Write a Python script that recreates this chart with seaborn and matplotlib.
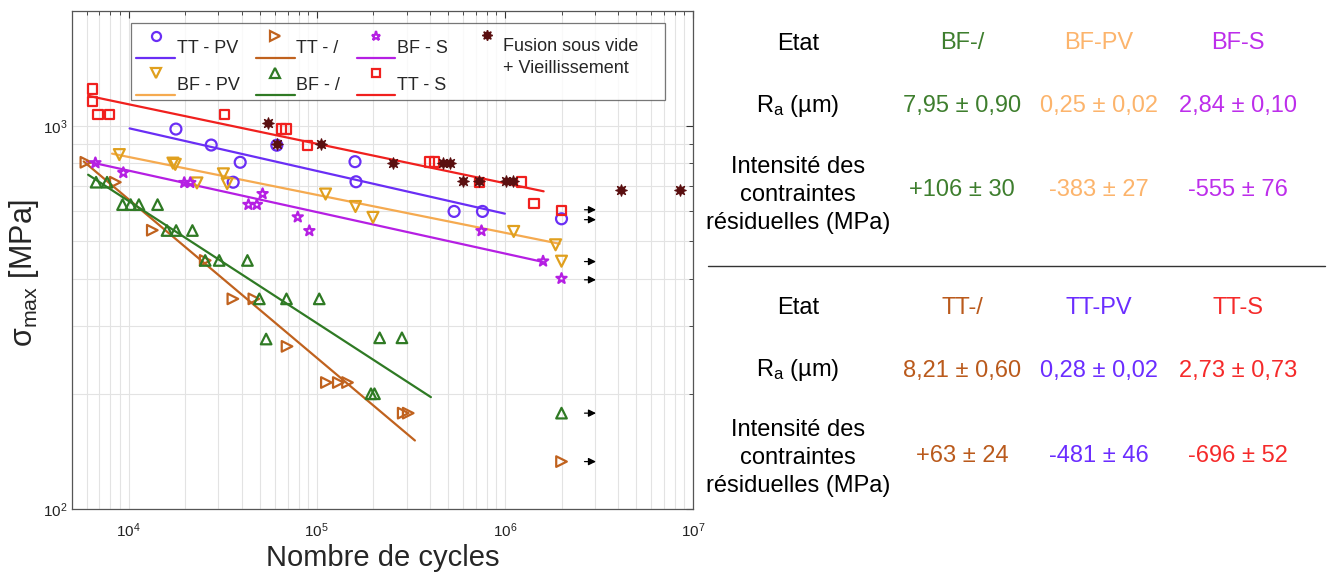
import numpy as np
import pandas as pd
import matplotlib
matplotlib.use("Agg")
import matplotlib.pyplot as plt
import seaborn as sns
from matplotlib.lines import Line2D
from matplotlib.legend_handler import HandlerLine2DCompound
from matplotlib.ticker import NullFormatter

# ---------------- data ----------------
ttpv_n = [17840, 27480, 39180, 35950, 61330, 159700, 161700, 537000, 760000, 2.0e6]
ttpv_s = [983, 893, 805, 714, 892, 808, 716, 599, 599, 573]

bfpv_n = [8925, 17200, 17700, 23070, 31900, 33400, 111400, 160600, 199000, 1.114e6, 1.86e6, 2.0e6]
bfpv_s = [843, 801, 795, 711, 751, 708, 665, 617, 578, 531, 490, 444]

ttx_n = [5926, 8500, 13360, 25530, 35810, 46300, 69500, 112500, 130200, 145700, 288100, 306300, 2.0e6]
ttx_s = [805, 714, 535, 446, 354, 354, 266, 214, 214, 214, 178, 178, 133]

bfx_n = [6714, 7680, 9282, 10250, 11340, 14250, 15990, 17890, 21830, 25530, 30290, 42810,
         49530, 69040, 103100, 53810, 216000, 283600, 194200, 202700, 2.0e6]
bfx_s = [714, 714, 624, 624, 624, 624, 534, 534, 534, 446, 446, 446,
         354, 354, 354, 278, 280, 280, 200, 200, 178]

bfs_n = [6657, 9374, 19760, 21260, 43350, 48040, 51540, 79250, 91330, 751000, 1.596e6, 2.0e6]
bfs_s = [802, 756, 712, 712, 624, 624, 666, 579, 533, 533, 444, 400]

tts_n = [6457, 6457, 6880, 7930, 32200, 65000, 68700, 89100, 399000, 424000, 736000, 1.225e6, 1.43e6, 2.0e6]
tts_s = [1251, 1158, 1073, 1073, 1073, 983, 983, 891, 806, 806, 713, 715, 627, 602]

fus_n = [55350, 61330, 105000, 253200, 468000, 512900, 602600, 724400, 1.02e6, 1.11e6, 4.12e6, 8.51e6]
fus_s = [1019, 900, 900, 802, 802, 802, 721, 721, 721, 721, 681, 681]

# Basquin fit lines (end points)
tts_fit_n = [6090, 1.607e6];  tts_fit_s = [1201, 676]
ttpv_fit_n = [10120, 1.0e6];  ttpv_fit_s = [987, 591]
bfpv_fit_n = [8165, 1.955e6]; bfpv_fit_s = [848, 493]
bfs_fit_n = [6016, 1.596e6];  bfs_fit_s = [809, 442]
ttx_fit_n = [5770, 332500];   ttx_fit_s = [809, 151]
bfx_fit_n = [6090, 404300];   bfx_fit_s = [747, 196]

# run-out arrows
runout_start = 2.65e6
runout_end = 3.05e6
runout_s = [605, 570, 443, 397, 178, 133]

# table
etat_top = ["BF-/", "BF-PV", "BF-S"]
ra_top = ["7,95 ± 0,90", "0,25 ± 0,02", "2,84 ± 0,10"]
rs_top = ["+106 ± 30", "-383 ± 27", "-555 ± 76"]
etat_bot = ["TT-/", "TT-PV", "TT-S"]
ra_bot = ["8,21 ± 0,60", "0,28 ± 0,02", "2,73 ± 0,73"]
rs_bot = ["+63 ± 24", "-481 ± 46", "-696 ± 52"]

# ---------------- style ----------------
sns.set_theme(style="white")
plt.rcParams["font.family"] = ["Liberation Sans", "DejaVu Sans"]
plt.rcParams["mathtext.fontset"] = "custom"
plt.rcParams["mathtext.rm"] = "Liberation Sans"
plt.rcParams["mathtext.it"] = "Liberation Sans:italic"

c_ttpv = "#6A2EF5"
c_bfpv_line = "#F5AA50"
c_bfpv_mark = "#E0A01E"
c_ttx = "#C0621E"
c_bfx = "#2F7A24"
c_bfs = "#B51FE3"
c_tts = "#F0201E"
c_fus = "#5A0F10"

tab_top_cols = ["#3E7E2E", "#FCB46C", "#BD2EEB"]
tab_bot_cols = ["#BA5A1C", "#6B2DFF", "#F52A2A"]

W, H = 1327, 572
fig = plt.figure(figsize=(W / 100, H / 100), dpi=100)
ax = fig.add_axes([72 / W, 1 - 509 / H, (693 - 72) / W, (509 - 11) / H])
ax.set_xscale("log")
ax.set_yscale("log")

lw_fit = 1.6
fits = [
    (tts_fit_n, tts_fit_s, c_tts),
    (ttpv_fit_n, ttpv_fit_s, c_ttpv),
    (bfpv_fit_n, bfpv_fit_s, c_bfpv_line),
    (bfs_fit_n, bfs_fit_s, c_bfs),
    (ttx_fit_n, ttx_fit_s, c_ttx),
    (bfx_fit_n, bfx_fit_s, c_bfx),
]
for fn, fs_, col in fits:
    sns.lineplot(x=fn, y=fs_, color=col, lw=lw_fit, ax=ax, legend=False, zorder=2)

series = [
    (ttpv_n, ttpv_s, c_ttpv, "o", 62),
    (bfpv_n, bfpv_s, c_bfpv_mark, "v", 62),
    (ttx_n, ttx_s, c_ttx, ">", 58),
    (bfx_n, bfx_s, c_bfx, "^", 58),
    (bfs_n, bfs_s, c_bfs, "*", 60),
    (tts_n, tts_s, c_tts, "s", 44),
]
for sn, ss, col, mk, sz in series:
    sns.scatterplot(x=sn, y=ss, marker=mk, s=sz, color=col, facecolors="none",
                    edgecolor=col, linewidth=1.6, ax=ax, legend=False, zorder=3)
sns.scatterplot(x=fus_n, y=fus_s, marker=(8, 1, 0), s=70, color=c_fus,
                edgecolor=c_fus, linewidth=0.8, ax=ax, legend=False, zorder=4)

for s in runout_s:
    ax.annotate("", xy=(runout_end, s), xytext=(runout_start, s),
                arrowprops=dict(arrowstyle="-|>", color="black", lw=0.9,
                                mutation_scale=11, shrinkA=0, shrinkB=0))

ax.set_xlim(5e3, 1e7)
ax.set_ylim(100, 2000)
ax.xaxis.set_minor_formatter(NullFormatter())
ax.yaxis.set_minor_formatter(NullFormatter())
ax.grid(True, which="both", color="#e3e3e3", lw=0.8)
ax.set_axisbelow(True)
ax.tick_params(which="both", direction="in", top=True, right=True, colors="#333333",
               labelsize=11, labelcolor="#222222")
ax.tick_params(axis="x", which="both", pad=9)
ax.tick_params(which="major", length=5, width=0.8)
ax.tick_params(which="minor", length=3, width=0.6)
for sp in ax.spines.values():
    sp.set_color("#555555")
    sp.set_linewidth(0.9)

ax.set_xlabel("Nombre de cycles", fontsize=21)
ax.xaxis.set_label_coords(0.5, -0.07)
ax.set_ylabel("σ$_{\\mathrm{max}}$ [MPa]", fontsize=22)
ax.yaxis.set_label_coords(-0.05, 0.475)


# legend with markers above the line (as in the reference)
class MarkerAbove(HandlerLine2DCompound):
    def __init__(self, line_dy=-0.62, mark_dy=0.62, **kw):
        super().__init__(**kw)
        self.line_dy = line_dy
        self.mark_dy = mark_dy

    def create_artists(self, legend, orig_handle, xdescent, ydescent, width, height, fontsize, trans):
        arts = super().create_artists(legend, orig_handle, xdescent, ydescent, width, height, fontsize, trans)
        line, mark = arts[0], arts[-1]
        y0 = (height - ydescent) / 2
        line.set_ydata(np.full(len(line.get_xdata()), y0 + self.line_dy * fontsize))
        mark.set_ydata(np.full(len(mark.get_xdata()), y0 + self.mark_dy * fontsize))
        return arts


def h(col, mk, mcol=None, ls="-", fill="none", ms=6.5):
    mc = mcol if mcol else col
    return Line2D([], [], color=col, lw=lw_fit, ls=ls, marker=mk, markersize=ms,
                  markerfacecolor=fill, markeredgecolor=mc, markeredgewidth=1.6)


fus_label = "Fusion sous vide\n+ Vieillissement"
fus_handle = Line2D([], [], ls="None", marker=(8, 1, 0), markersize=7.5, color=c_fus,
                    markerfacecolor=c_fus, markeredgecolor=c_fus)
handles = [
    h(c_ttpv, "o"), h(c_bfpv_line, "v", c_bfpv_mark),
    h(c_ttx, ">"), h(c_bfx, "^"),
    h(c_bfs, "*"), h(c_tts, "s", ms=5.5),
    Line2D([], [], ls="None", marker="None"),
]
spacer = " " * 31 + "\n" + " "
labels = ["TT - PV", "BF - PV", "TT - /", "BF - /", "BF - S", "TT - S", spacer]
leg = ax.legend(handles, labels, ncol=4, loc="upper left", bbox_to_anchor=(0.080, 0.994),
                fontsize=13, handlelength=2.15, handletextpad=0.1, columnspacing=0.9,
                labelspacing=1.1, borderpad=0.3, frameon=True, fancybox=False,
                handler_map={Line2D: MarkerAbove()})
leg.get_frame().set_edgecolor("#555555")
leg.get_frame().set_linewidth(0.9)
ax.add_artist(leg)

leg2 = ax.legend([fus_handle], [fus_label], loc="upper left",
                 bbox_to_anchor=((473 - 72) / 621, (509 - 38) / 498), borderaxespad=0,
                 borderpad=0, fontsize=13, handlelength=1.55, handletextpad=0.1,
                 frameon=False, handler_map={Line2D: MarkerAbove(line_dy=0, mark_dy=1.25)})
leg2.get_texts()[0].set_linespacing(1.35)

# ---------------- table on the right ----------------
fs = 17
col_x = [798, 962, 1099, 1238]


def ftext(x, y, s, color="black", **kw):
    fig.text(x / W, 1 - y / H, s, color=color, fontsize=fs, ha="center", va="center", **kw)


ra_label = "R$_{\\mathrm{a}}$ (µm)"
rs_label = "Intensité des\ncontraintes\nrésiduelles (MPa)"

ftext(col_x[0], 44, "Etat")
ftext(col_x[0], 106, ra_label)
ftext(col_x[0], 195, rs_label, linespacing=1.35)
for i in range(3):
    ftext(col_x[i + 1], 43, etat_top[i], tab_top_cols[i])
    ftext(col_x[i + 1], 106, ra_top[i], tab_top_cols[i])
    ftext(col_x[i + 1], 190, rs_top[i], tab_top_cols[i])

fig.add_artist(Line2D([708 / W, 1325 / W], [1 - 265.5 / H, 1 - 265.5 / H],
                      color="#333333", lw=1.0, transform=fig.transFigure))

ftext(col_x[0], 308, "Etat")
ftext(col_x[0], 370, ra_label)
ftext(col_x[0], 458, rs_label, linespacing=1.35)
for i in range(3):
    ftext(col_x[i + 1], 308, etat_bot[i], tab_bot_cols[i])
    ftext(col_x[i + 1], 371, ra_bot[i], tab_bot_cols[i])
    ftext(col_x[i + 1], 456, rs_bot[i], tab_bot_cols[i])

fig.savefig("out.png", dpi=100)
